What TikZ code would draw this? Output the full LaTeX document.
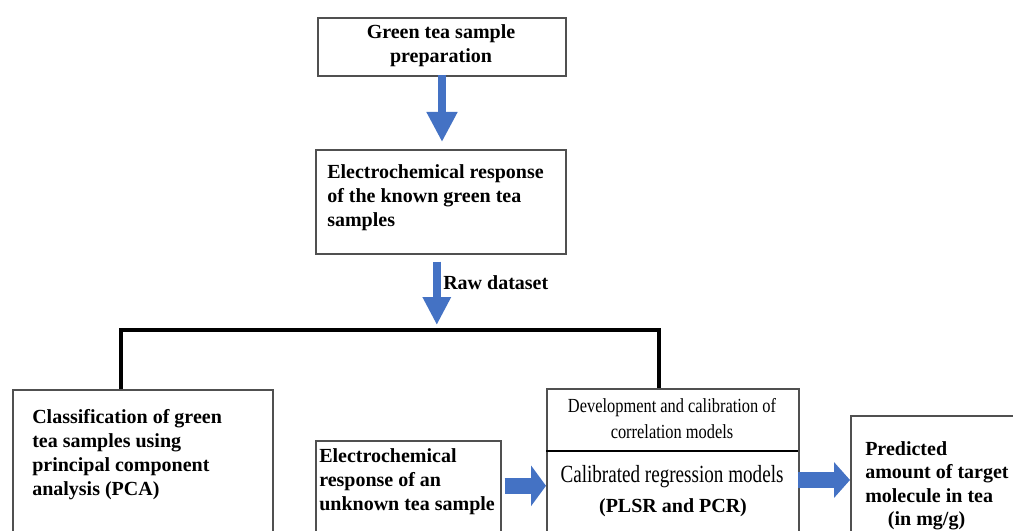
\documentclass[tikz,border=0pt]{standalone}
\usepackage{fontspec}
\setmainfont{Liberation Serif}
\newfontfamily\condfont[FakeStretch=0.82]{Liberation Serif}
\newfontfamily\condfontb[FakeStretch=0.775]{Liberation Serif}
\usetikzlibrary{arrows.meta,calc}
\definecolor{arrblue}{HTML}{4472C4}
\definecolor{boxgray}{HTML}{505050}
\tikzset{
  box/.style={draw=boxgray,line width=1.2pt,rectangle,inner sep=0pt,anchor=north west},
  txt/.style={inner sep=0pt,font=\fontsize{15}{18}\selectfont\bfseries,align=left,anchor=north west},
  bar/.style={line width=3.6pt,line join=miter,line cap=butt}
}
\begin{document}
\begin{tikzpicture}[x=0.75pt,y=-0.75pt]
\useasboundingbox (0,0) rectangle (1013,531);
\clip (0,0) rectangle (1013,531);
\fill[white] (0,0) rectangle (1013,531);
% boxes
\node[box,minimum width=186pt,minimum height=43.5pt] (b1) at (317,17) {};
\node[box,minimum width=187.5pt,minimum height=78pt] (b2) at (315,149) {};
\node[box,minimum width=195pt,minimum height=120pt] (left) at (12,389) {};
\node[box,minimum width=138.75pt,minimum height=75pt] (mid) at (315,440) {};
\node[box,minimum width=189pt,minimum height=138pt] (model) at (546,388) {};
\node[box,minimum width=200pt,minimum height=100pt] (right) at (850,415) {};
\coordinate (divL) at (546,451);
\coordinate (divR) at (798,451);
\draw[line width=1.4pt,black] (divL) -- (divR);
% texts
\node[txt,align=center,anchor=north] (t1) at (441,24) {Green tea sample\\preparation};
\node[txt] (t2) at (327,164) {Electrochemical response\\of the known green tea\\samples};
\node[txt,anchor=west] (raw) at (443,283) {Raw dataset};
\node[txt] (t3) at (32,409) {Classification of green\\tea samples using\\principal component\\analysis (PCA)};
\node[txt] (t4) at (319,448) {Electrochemical\\response of an\\unknown tea sample};
\node[inner sep=0pt,anchor=north,align=center,font=\fontsize{15}{19.5}\condfont] (t5) at (672,398) {Development and calibration of\\correlation models};
\node[inner sep=0pt,font=\fontsize{18.5}{20}\condfontb] (t6) at (672,477) {Calibrated regression models};
\node[inner sep=0pt,font=\fontsize{15}{18}\selectfont\bfseries] (t7) at (673,508) {(PLSR and PCR)};
\node[txt,font=\fontsize{15}{17.6}\selectfont\bfseries] (t8) at (865,441) {Predicted\\amount of target\\molecule in tea\\\hspace*{17pt}(in mg/g)};
% arrows
\coordinate (a1) at (442,75);
\draw[draw=arrblue,line width=6pt,-{Triangle[width=21.75pt,length=22.5pt,fill=arrblue]}]
  (a1) -- ($(a1|-b2.north)+(0,-7)$);
\coordinate (barL) at (121,330);
\coordinate (barR) at (659,330);
\draw[draw=arrblue,line width=6pt,-{Triangle[width=20pt,length=21pt,fill=arrblue]}]
  ($(b2.south)+(-4,7)$) -- ($(b2.south|-barL)+(-4,-5)$);
\draw[bar] (left.north-|barL) -- (barL) -- (barR) -- (model.north-|barR);
\draw[draw=arrblue,line width=12pt,-{Triangle[width=30pt,length=11.25pt,fill=arrblue]}]
  ($(mid.east)+(3,-5)$) -- ($(mid.east-|model.west)+(0,-5)$);
\coordinate (ra) at (798,480);
\draw[draw=arrblue,line width=12pt,-{Triangle[width=26.25pt,length=12pt,fill=arrblue]}]
  (ra) -- (ra-|right.west);
\end{tikzpicture}
\end{document}
